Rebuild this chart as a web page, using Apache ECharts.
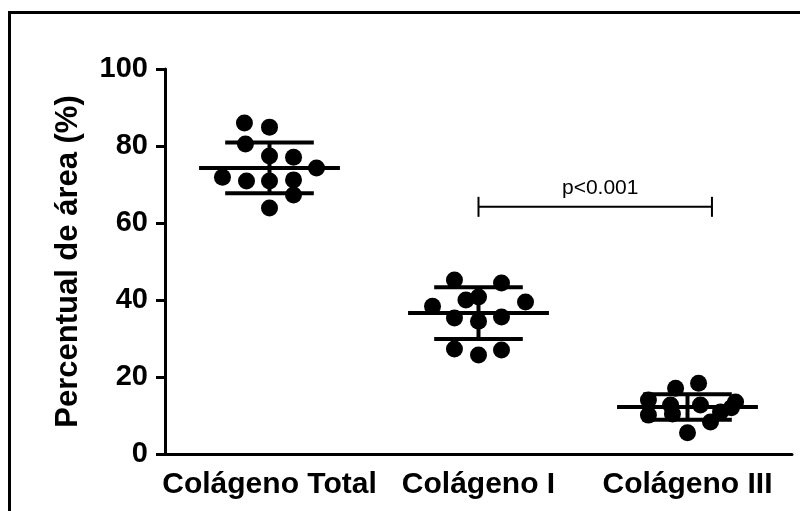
<!DOCTYPE html>
<html>
<head>
<meta charset="utf-8">
<script src="https://cdn.jsdelivr.net/npm/echarts@6/dist/echarts.min.js"></script>
<style>
  html, body { margin: 0; padding: 0; background: #fff; }
  #chart { width: 800px; height: 511px; }
</style>
</head>
<body>
<div id="chart"></div>
<script>
// groups on the x axis
const categories = ['Colágeno Total', 'Colágeno I', 'Colágeno III']
const yTicks = [0, 20, 40, 60, 80, 100]

// individual points (value) and their horizontal scatter (in category widths)
const totalValues = [86.0, 84.9, 80.5, 77.4, 77.1, 74.3, 71.9, 70.9, 70.9, 71.2, 67.3, 63.9]
const totalJitter = [-0.12, 0, -0.115, 0, 0.115, 0.225, -0.225, -0.11, 0, 0.115, 0.115, 0]
const col1Values = [45.2, 44.4, 40.0, 40.8, 39.5, 38.4, 35.3, 34.5, 35.6, 27.3, 25.7, 27.0]
const col1Jitter = [-0.115, 0.11, -0.06, 0, 0.225, -0.22, -0.115, 0, 0.11, -0.115, 0, 0.11]
const col3Values = [17.1, 18.4, 14.0, 13.5, 12.7, 12.7, 10.1, 10.4, 10.9, 8.3, 5.5, 12.0]
const col3Jitter = [-0.057, 0.053, -0.187, 0.23, -0.081, 0.062, -0.187, -0.072, 0.158, 0.11, 0, 0.21]

// mean and SD of each group as drawn
const groupMeans = [74.3, 36.6, 12.2]
const groupSD = [6.6, 6.7, 3.3]

// significance bracket
const bracketFrom = 1.5
const bracketTo = 2.617
const bracketY = 64.2
const bracketText = 'p<0.001'

const FONT = "'Liberation Sans', Arial, sans-serif"

function pts (values, jitter, idx) {
  return values.map((v, i) => [idx + 0.5 + jitter[i], v])
}
const allPoints = [].concat(
  pts(totalValues, totalJitter, 0),
  pts(col1Values, col1Jitter, 1),
  pts(col3Values, col3Jitter, 2)
)

const chart = echarts.init(document.getElementById('chart'))
const option = {
  animation: false,
  backgroundColor: '#fff',
  grid: { left: 165, right: 8, top: 69, bottom: 57, containLabel: false },
  xAxis: [
    {
      type: 'category',
      data: categories,
      boundaryGap: true,
      axisLine: { lineStyle: { color: '#000', width: 3 } },
      axisTick: { alignWithLabel: true, length: 9, lineStyle: { color: '#000', width: 3 } },
      axisLabel: { interval: 0, color: '#000', fontFamily: FONT, fontWeight: 'bold', fontSize: 30, margin: 16 },
      splitLine: { show: false }
    },
    { type: 'value', min: 0, max: 3, show: false }
  ],
  yAxis: {
    type: 'value',
    min: yTicks[0],
    max: yTicks[yTicks.length - 1],
    interval: 20,
    name: 'Percentual de área (%)',
    nameLocation: 'middle',
    nameGap: 81,
    nameTextStyle: { color: '#000', fontFamily: FONT, fontWeight: 'bold', fontSize: 31 },
    axisLine: { show: true, lineStyle: { color: '#000', width: 3 } },
    axisTick: { show: true, length: 9, lineStyle: { color: '#000', width: 3 } },
    axisLabel: { color: '#000', fontFamily: FONT, fontWeight: 'bold', fontSize: 29, margin: 17 },
    splitLine: { show: false }
  },
  series: [
    {
      type: 'custom',
      xAxisIndex: 1,
      data: groupMeans.map((m, i) => [i + 0.5, m, groupSD[i]]),
      renderItem (params, api) {
        const x = api.value(0)
        const m = api.value(1)
        const s = api.value(2)
        const st = { stroke: '#000', lineWidth: 4 }
        const ml = api.coord([x - 0.337, m])
        const mr = api.coord([x + 0.337, m])
        const ul = api.coord([x - 0.212, m + s])
        const ur = api.coord([x + 0.212, m + s])
        const ll = api.coord([x - 0.212, m - s])
        const lr = api.coord([x + 0.212, m - s])
        return {
          type: 'group',
          children: [
            { type: 'line', shape: { x1: ml[0], y1: ml[1], x2: mr[0], y2: mr[1] }, style: st },
            { type: 'line', shape: { x1: ul[0], y1: ul[1], x2: ur[0], y2: ur[1] }, style: st },
            { type: 'line', shape: { x1: ll[0], y1: ll[1], x2: lr[0], y2: lr[1] }, style: st },
            { type: 'line', shape: { x1: (ul[0] + ur[0]) / 2, y1: ul[1], x2: (ll[0] + lr[0]) / 2, y2: ll[1] }, style: st }
          ]
        }
      }
    },
    {
      type: 'scatter',
      xAxisIndex: 1,
      symbol: 'circle',
      symbolSize: 17,
      itemStyle: { color: '#000', opacity: 1 },
      data: allPoints
    },
    {
      type: 'custom',
      xAxisIndex: 1,
      data: [[bracketFrom, bracketTo, bracketY]],
      renderItem (params, api) {
        const a = api.coord([api.value(0), api.value(2)])
        const b = api.coord([api.value(1), api.value(2)])
        const st = { stroke: '#000', lineWidth: 2 }
        return {
          type: 'group',
          children: [
            { type: 'line', shape: { x1: a[0], y1: a[1], x2: b[0], y2: b[1] }, style: st },
            { type: 'line', shape: { x1: a[0], y1: a[1] - 10, x2: a[0], y2: a[1] + 10 }, style: st },
            { type: 'line', shape: { x1: b[0], y1: b[1] - 10, x2: b[0], y2: b[1] + 10 }, style: st },
            {
              type: 'text',
              style: {
                text: bracketText,
                x: (a[0] + b[0]) / 2 + 5,
                y: a[1] - 8,
                textAlign: 'center',
                textVerticalAlign: 'bottom',
                fill: '#000',
                font: '21px ' + FONT
              }
            }
          ]
        }
      }
    }
  ],
  graphic: [
    {
      type: 'rect',
      shape: { x: 9.5, y: 12.5, width: 1000, height: 1000 },
      style: { fill: 'none', stroke: '#000', lineWidth: 3 },
      silent: true
    }
  ]
}
chart.setOption(option)
</script>
</body>
</html>
